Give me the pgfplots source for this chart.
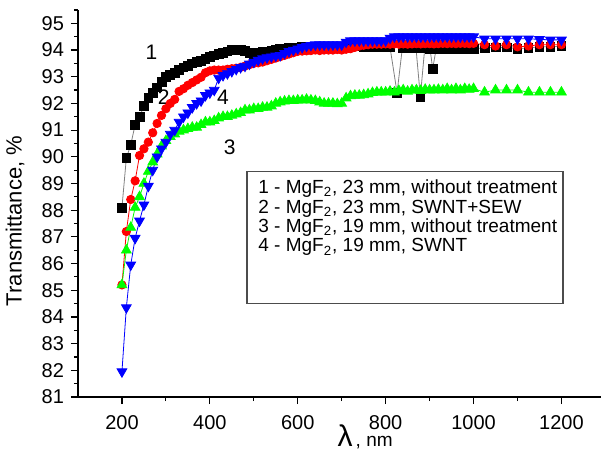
\documentclass[border=0pt]{standalone}
\usepackage{fontspec}
\setmainfont{Liberation Sans}
\usepackage{pgfplots}
\pgfplotsset{compat=1.18}

\definecolor{cgreen}{RGB}{0,255,0}
\definecolor{cred}{RGB}{255,0,0}
\definecolor{cblue}{RGB}{0,0,255}

\begin{document}
\begin{tikzpicture}
\begin{axis}[
  scale only axis,
  width=261.5pt,
  height=193.5pt,
  xmin=100, xmax=1290,
  ymin=81, ymax=95.5,
  axis lines*=left,
  axis line style={line width=1pt},
  xtick={200,400,...,1200},
  minor xtick={300,500,...,1100},
  ytick={81,82,...,95},
  minor ytick={81.5,82.5,...,95.5},
  tick align=outside,
  major tick length=3.5pt,
  minor tick length=2pt,
  tick style={line width=0.6pt,black},
  /pgf/number format/assume math mode=true,
  /pgf/number format/1000 sep={},
  tick label style={font=\fontsize{10}{10}\selectfont},
  xticklabel style={yshift=-2pt},
  xlabel={{\fontsize{15}{15}\selectfont λ}\,, nm},
  xlabel style={at={(rel axis cs:0.549,-0.127)}, anchor=base, font=\fontsize{9.5}{10}\selectfont},
  ylabel={Transmittance, \%},
  ylabel style={at={(rel axis cs:-0.1205,0.455)}, anchor=center, font=\fontsize{11}{11}\selectfont},
  every axis plot/.append style={line width=0.4pt},
]
\addplot[gray, mark=square*, mark size=2.2pt, mark options={solid, fill=black, draw=black}] coordinates {
(200,88.1)(210,89.95)(220,90.45)(230,91.2)(240,91.5)(250,91.9)(260,92.2)(270,92.4)(280,92.6)(290,92.8)
(300,93.0)(310,93.08)(320,93.15)(330,93.25)(340,93.35)(350,93.42)(360,93.5)(370,93.55)(380,93.6)(390,93.68)
(400,93.75)(410,93.8)(420,93.85)(430,93.9)(440,93.95)(450,94.0)(460,94.02)(470,94.02)(480,93.98)(490,93.9)
(500,93.87)(510,93.9)(520,93.93)(530,93.95)(540,93.98)(550,94.0)(560,94.03)(570,94.05)(580,94.08)(590,94.1)
(600,94.1)(610,94.12)(620,94.1)(630,94.12)(640,94.12)(650,94.13)(660,94.12)(670,94.13)(680,94.13)(690,94.14)
(700,94.13)(710,94.14)(720,94.13)(730,94.14)(740,94.14)(750,94.13)(760,94.12)(770,94.12)(780,94.11)(790,94.1)
(800,94.1)(810,94.1)(826,92.4)(838,94.08)(850,94.08)(860,94.08)(869,94.08)(879,92.25)(889,94.08)(901,94.05)
(907,93.3)(915,94.05)(930,94.05)(940,94.05)(950,94.05)(960,94.05)(970,94.05)(980,94.05)(990,94.05)(1000,94.05)
(1025,94.08)(1050,94.1)(1075,94.1)(1100,94.05)(1125,94.08)(1150,94.12)(1175,94.12)(1200,94.15)
};
\addplot[cred, mark=*, mark size=2.1pt, mark options={solid, fill=cred, draw=cred}] coordinates {
(200,85.2)(210,87.2)(220,88.4)(230,89.1)(240,90.05)(250,90.3)(260,90.55)(270,90.9)(280,91.25)(290,91.55)
(300,91.8)(310,92.0)(320,92.15)(330,92.45)(340,92.55)(350,92.68)(360,92.78)(370,92.88)(380,92.98)(390,93.15)
(400,93.22)(410,93.25)(420,93.25)(430,93.25)(440,93.28)(450,93.3)(460,93.32)(470,93.35)(480,93.4)(490,93.45)
(500,93.5)(510,93.52)(520,93.55)(530,93.6)(540,93.65)(550,93.7)(560,93.75)(570,93.8)(580,93.85)(590,93.9)
(600,93.95)(610,93.96)(620,93.97)(630,93.98)(640,94.0)(650,93.98)(660,94.0)(670,94.0)(680,94.0)(690,94.02)
(700,94.0)(710,94.03)(720,94.05)(730,94.1)(740,94.15)(750,94.18)(760,94.2)(770,94.22)(780,94.22)(790,94.22)
(800,94.23)(810,94.22)(820,94.23)(830,94.22)(840,94.23)(850,94.22)(860,94.23)(870,94.24)(880,94.23)(890,94.24)
(900,94.24)(910,94.23)(920,94.24)(930,94.25)(940,94.24)(950,94.25)(960,94.24)(970,94.25)(980,94.25)(990,94.24)
(1000,94.25)(1025,94.2)(1050,94.15)(1075,94.2)(1100,94.12)(1125,94.15)(1150,94.2)(1175,94.2)(1200,94.2)
};
\addplot[cgreen, mark=triangle*, mark size=2.8pt, mark options={solid, fill=cgreen, draw=cgreen}] coordinates {
(200,85.2)(210,86.5)(220,87.35)(230,88.1)(240,88.5)(250,89.0)(260,89.45)(270,89.8)(280,90.1)(290,90.4)
(300,90.6)(310,90.75)(320,90.85)(330,90.95)(340,91.0)(350,91.05)(360,91.1)(370,91.1)(380,91.2)(390,91.3)
(400,91.3)(410,91.35)(420,91.45)(430,91.5)(440,91.5)(450,91.55)(460,91.6)(470,91.65)(480,91.75)(490,91.75)
(500,91.8)(510,91.8)(520,91.85)(530,91.85)(540,91.9)(550,92.0)(560,92.05)(570,92.08)(580,92.1)(590,92.1)
(600,92.12)(610,92.12)(620,92.15)(630,92.12)(640,92.1)(650,92.05)(660,92.0)(670,92.0)(680,92.0)(690,91.98)
(700,92.0)(710,92.2)(720,92.28)(730,92.3)(740,92.3)(750,92.32)(760,92.35)(770,92.4)(780,92.42)(790,92.42)
(800,92.42)(810,92.45)(820,92.42)(830,92.48)(840,92.5)(850,92.45)(860,92.5)(870,92.5)(880,92.48)(890,92.52)
(900,92.5)(910,92.5)(920,92.52)(930,92.5)(940,92.55)(950,92.5)(960,92.55)(970,92.5)(980,92.55)(990,92.52)
(1000,92.55)(1025,92.42)(1050,92.5)(1075,92.5)(1100,92.5)(1125,92.42)(1150,92.42)(1175,92.42)(1200,92.42)
};
\addplot[cblue, mark=triangle*, mark size=2.8pt, mark options={solid, rotate=180, fill=cblue, draw=cblue}] coordinates {
(200,81.95)(210,84.35)(220,85.95)(230,86.95)(240,87.6)(250,88.2)(260,88.9)(270,89.5)(280,90.0)(290,90.3)
(300,90.55)(310,90.85)(320,91.0)(330,91.3)(340,91.5)(350,91.65)(360,91.85)(370,92.0)(380,92.1)(390,92.3)
(400,92.4)(410,92.5)(420,92.95)(430,93.05)(440,93.12)(450,93.2)(460,93.28)(470,93.35)(480,93.4)(490,93.48)
(500,93.55)(510,93.62)(520,93.68)(530,93.72)(540,93.75)(550,93.78)(560,93.8)(570,93.88)(580,93.95)(590,94.0)
(600,94.05)(610,94.1)(620,94.15)(630,94.18)(640,94.2)(650,94.2)(660,94.2)(670,94.2)(680,94.2)(690,94.2)
(700,94.2)(710,94.3)(720,94.35)(730,94.35)(740,94.35)(750,94.35)(760,94.35)(770,94.35)(780,94.35)(790,94.35)
(800,94.35)(810,94.45)(820,94.5)(830,94.5)(840,94.5)(850,94.5)(860,94.5)(870,94.5)(880,94.5)(890,94.5)
(900,94.5)(910,94.5)(920,94.5)(930,94.5)(940,94.5)(950,94.5)(960,94.5)(970,94.5)(980,94.5)(990,94.5)
(1000,94.5)(1025,94.42)(1050,94.42)(1075,94.42)(1100,94.42)(1125,94.42)(1150,94.4)(1175,94.38)(1200,94.38)
};
\node[font=\fontsize{10.5}{11}\selectfont] at (axis cs:267,93.93) {1};
\node[font=\fontsize{10.5}{11}\selectfont] at (axis cs:295,92.22) {2};
\node[font=\fontsize{10.5}{11}\selectfont] at (axis cs:445,90.37) {3};
\node[font=\fontsize{10.5}{11}\selectfont] at (axis cs:430,92.22) {4};
\node[draw=black!70, line width=0.6pt, fill=white, anchor=north west, minimum width=158pt, minimum height=66pt,
      inner sep=0pt] (leg) at (axis cs:483,89.48) {};
\node[anchor=north west, align=left, inner sep=0pt, font=\fontsize{9.5}{8.4}\selectfont]
  at ([xshift=5.8pt,yshift=-4.5pt]leg.north west) {%
  1 - MgF\textsubscript{2}, 23 mm, without treatment\\
  2 - MgF\textsubscript{2}, 23 mm, SWNT+SEW\\
  3 - MgF\textsubscript{2}, 19 mm, without treatment\\
  4 - MgF\textsubscript{2}, 19 mm, SWNT};
\coordinate (bl) at (rel axis cs:0,0);
\coordinate (tr) at (rel axis cs:1,1);
\end{axis}
\pgfresetboundingbox
\path ([xshift=-39pt,yshift=-27pt]bl) rectangle ([yshift=5pt]tr);
\end{tikzpicture}
\end{document}
